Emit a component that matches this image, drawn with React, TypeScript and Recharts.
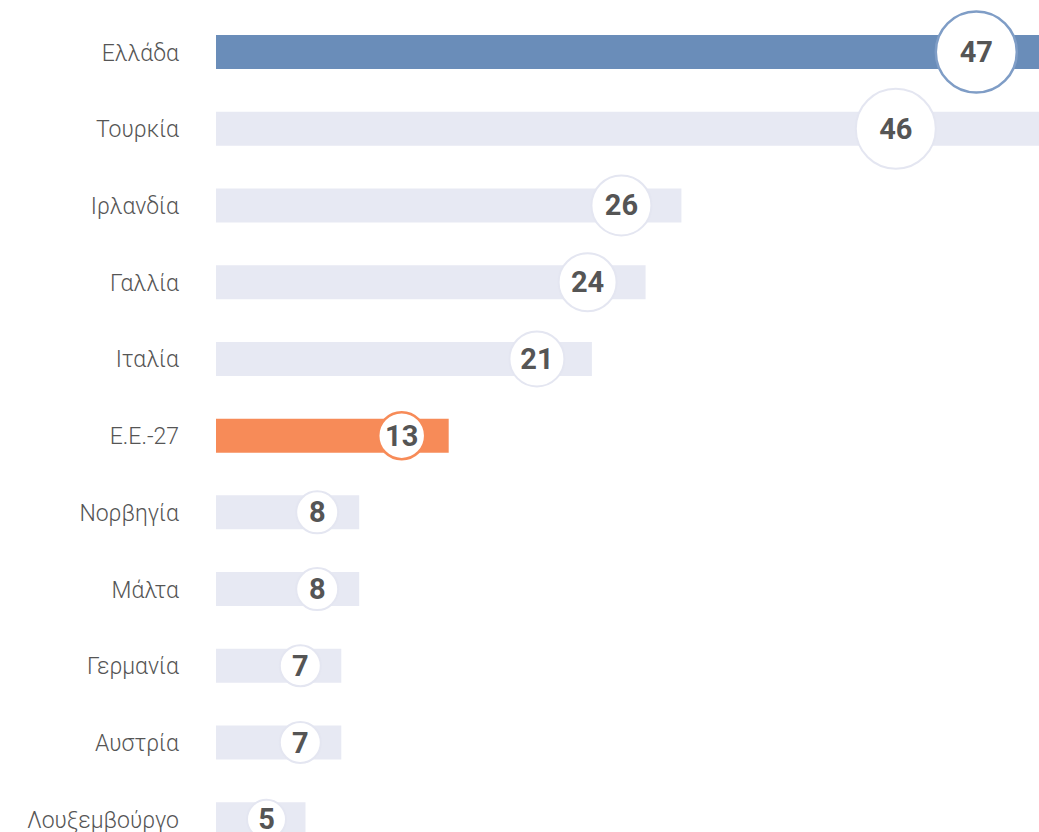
import { BarChart, Bar, XAxis, YAxis, Cell, LabelList } from 'recharts';

const countries = [
  'Ελλάδα',
  'Τουρκία',
  'Ιρλανδία',
  'Γαλλία',
  'Ιταλία',
  'Ε.Ε.-27',
  'Νορβηγία',
  'Μάλτα',
  'Γερμανία',
  'Αυστρία',
  'Λουξεμβούργο',
];
const values = [47, 46, 26, 24, 21, 13, 8, 8, 7, 7, 5];
// which bars are highlighted: 'gr' = Greece, 'eu' = EU average
const highlights = ['gr', '', '', '', '', 'eu', '', '', '', '', ''];

const BAR_COLORS: Record<string, string> = { gr: '#6a8db9', eu: '#f78b58', '': '#e7e9f3' };
const RING_COLORS: Record<string, string> = { gr: '#7f9dc6', eu: '#f78b58', '': '#e4e6f1' };

const data = countries.map((name, i) => ({ name, value: values[i], kind: highlights[i] }));

const CHART_H = 858;
const TOP = 14;
const ROW_STEP = (CHART_H - TOP) / countries.length;

const radius = (v: number) => 17 + v * 0.5;

function Bubble(props: any) {
  const { x, y, width, height, value, index } = props;
  const x0 = Number(x);
  const w = Number(width);
  const r = radius(value);
  let cx = x0 + w - 2 * r;
  // nudge left when the bubble would run into the one on the row above
  if (index > 0) {
    const pv = values[index - 1];
    const pr = radius(pv);
    const pcx = x0 + (w * pv) / value - 2 * pr;
    if (pr + r > ROW_STEP && Math.abs(pcx - cx) < pr + r) cx = pcx - (pr + r);
  }
  const cy = Number(y) + Number(height) / 2;
  const kind = highlights[index] ?? '';
  return (
    <g>
      <circle cx={cx} cy={cy} r={r} fill="#fff" stroke={RING_COLORS[kind]} strokeWidth={kind ? 2.5 : 2} />
      <text
        x={cx}
        y={cy}
        textAnchor="middle"
        dominantBaseline="central"
        fontFamily="Roboto, 'DejaVu Sans', sans-serif"
        fontWeight={700}
        fontSize={29}
        fill="#555"
      >
        {value}
      </text>
    </g>
  );
}

export default function App() {
  return (
    <div style={{ position: 'absolute', left: 0, top: 0, width: 1039, height: 832, overflow: 'hidden', background: '#fff' }}>
      <BarChart
        width={1111}
        height={CHART_H}
        data={data}
        layout="vertical"
        margin={{ top: TOP, right: 0, bottom: 0, left: 0 }}
      >
        <XAxis type="number" domain={[0, 50]} hide />
        <YAxis
          type="category"
          dataKey="name"
          width={216}
          axisLine={false}
          tickLine={false}
          tickMargin={31}
          tick={{ fontSize: 23, fill: '#555', fontWeight: 300, fontFamily: "Roboto, 'Open Sans', sans-serif" }}
        />
        <Bar dataKey="value" barSize={34} isAnimationActive={false}>
          {data.map((d) => (
            <Cell key={d.name} fill={BAR_COLORS[d.kind]} />
          ))}
          <LabelList dataKey="value" content={<Bubble />} />
        </Bar>
      </BarChart>
    </div>
  );
}
